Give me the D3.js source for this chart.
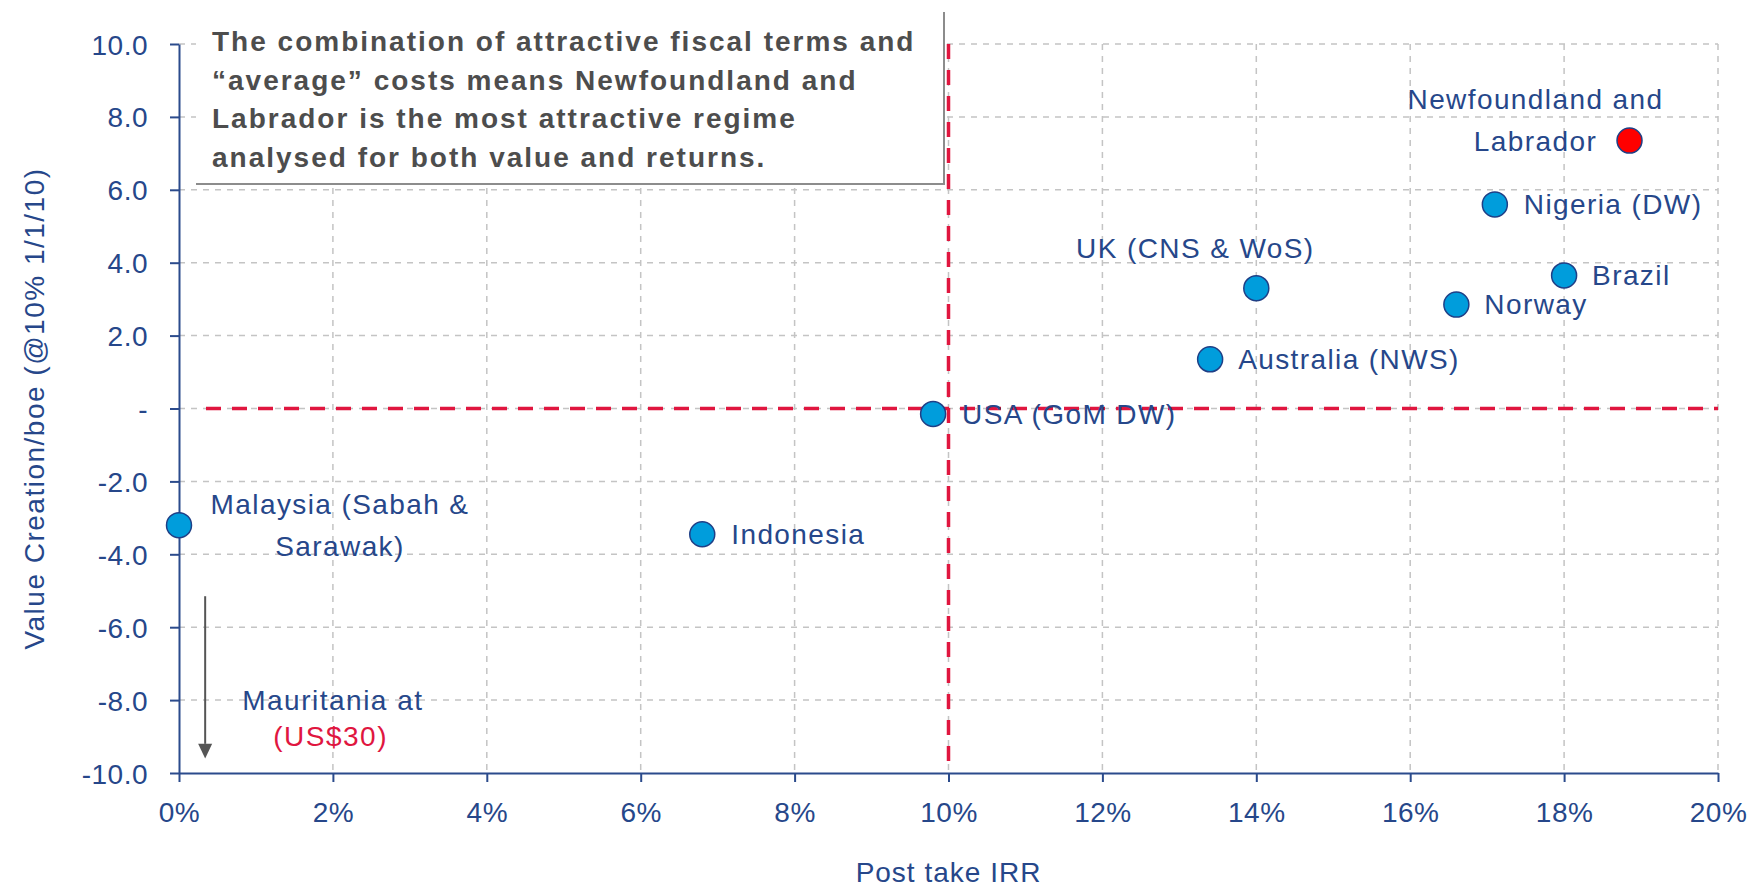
<!DOCTYPE html>
<html>
<head>
    <meta charset="utf-8">
    <title>Value creation vs post take IRR</title>
    <script src="https://cdnjs.cloudflare.com/ajax/libs/d3/7.8.5/d3.min.js"></script>
    <style>
        body {
            margin: 0;
            background: white;
            font-family: "Liberation Sans", Arial, sans-serif;
        }
        #chart {
            width: 1753px;
            height: 889px;
        }
        .grid line {
            stroke: #c4c4c4;
            stroke-width: 1.5;
            stroke-dasharray: 6,6;
        }
        .axis path, .axis line {
            stroke: #2b4b8c;
            stroke-width: 2;
        }
        .axis text {
            fill: #26478a;
            font-size: 28px;
            letter-spacing: 0.5px;
            font-family: "Liberation Sans", Arial, sans-serif;
        }
    </style>
</head>
<body>
    <div id="chart"></div>

    <script>
        // regimes: post take IRR (%) and value creation/boe
        const regimes = ["Malaysia (Sabah & Sarawak)", "Indonesia", "USA (GoM DW)", "Australia (NWS)",
            "UK (CNS & WoS)", "Norway", "Brazil", "Nigeria (DW)", "Newfoundland and Labrador"];
        const irr = [0.0, 6.8, 9.8, 13.4, 14.0, 16.6, 18.0, 17.1, 18.85];
        const valueCreation = [-3.2, -3.45, -0.15, 1.35, 3.3, 2.85, 3.65, 5.6, 7.35];
        const highlighted = "Newfoundland and Labrador";

        const xTicks = [0, 2, 4, 6, 8, 10, 12, 14, 16, 18, 20];
        const yTicks = [-10, -8, -6, -4, -2, 0, 2, 4, 6, 8, 10];

        const hurdleIRR = 10;      // vertical red line
        const breakEven = 0;       // horizontal red line

        const noteLines = [
            "The combination of attractive fiscal terms and",
            "\u201caverage\u201d costs means Newfoundland and",
            "Labrador is the most attractive regime",
            "analysed for both value and returns."
        ];

        // label placement (pixel offsets from each point)
        const labelLayout = {
            "Malaysia (Sabah & Sarawak)": { anchor: "middle", dx: 161, lines: [["Malaysia (Sabah &", -21], ["Sarawak)", 21]] },
            "Indonesia": { anchor: "start", dx: 29, lines: [["Indonesia", 0]] },
            "USA (GoM DW)": { anchor: "start", dx: 29, lines: [["USA (GoM DW)", 0]] },
            "Australia (NWS)": { anchor: "start", dx: 28, lines: [["Australia (NWS)", 0]] },
            "UK (CNS & WoS)": { anchor: "middle", dx: -61, lines: [["UK (CNS & WoS)", -40]] },
            "Norway": { anchor: "start", dx: 28, lines: [["Norway", 0]] },
            "Brazil": { anchor: "start", dx: 28, lines: [["Brazil", 0]] },
            "Nigeria (DW)": { anchor: "start", dx: 29, lines: [["Nigeria (DW)", 0]] },
            "Newfoundland and Labrador": { anchor: "middle", dx: -94, lines: [["Newfoundland and", -41], ["Labrador", 1]] }
        };

        const width = 1753, height = 889;
        const margin = { top: 44, right: 35, bottom: 116, left: 179 };

        const svg = d3.select("#chart").append("svg")
            .attr("width", width)
            .attr("height", height);

        const x = d3.scaleLinear().domain([0, 20]).range([margin.left, width - margin.right]);
        const y = d3.scaleLinear().domain([-10, 10]).range([height - margin.bottom, margin.top]);

        // grid
        const grid = svg.append("g").attr("class", "grid");
        grid.selectAll(".gx").data(xTicks.slice(1)).join("line")
            .attr("x1", d => x(d)).attr("x2", d => x(d))
            .attr("y1", y(10)).attr("y2", y(-10));
        grid.selectAll(".gy").data(yTicks.slice(1)).join("line")
            .attr("x1", x(0)).attr("x2", x(20))
            .attr("y1", d => y(d)).attr("y2", d => y(d));

        // text box (covers grid)
        const box = { x0: 196, y0: 12, x1: 944, y1: 184 };
        svg.append("rect")
            .attr("x", box.x0).attr("y", box.y0)
            .attr("width", box.x1 - box.x0).attr("height", box.y1 - box.y0)
            .attr("fill", "white");
        svg.append("path")
            .attr("d", `M${box.x0},${box.y1}H${box.x1}V${box.y0}`)
            .attr("fill", "none")
            .attr("stroke", "#8c8c8c")
            .attr("stroke-width", 2);
        svg.append("g").selectAll("text").data(noteLines).join("text")
            .attr("x", 212)
            .attr("y", (d, i) => 51 + i * 38.5)
            .attr("fill", "#4d4d4d")
            .attr("font-size", "28px")
            .attr("font-weight", "bold")
            .attr("letter-spacing", "2px")
            .text(d => d);

        // red reference lines
        svg.append("line")
            .attr("x1", x(hurdleIRR)).attr("x2", x(hurdleIRR))
            .attr("y1", y(10)).attr("y2", y(-10) - 8)
            .attr("stroke", "#e0163f").attr("stroke-width", 3.5)
            .attr("stroke-dasharray", "15,11");
        svg.append("line")
            .attr("x1", x(0) + 27).attr("x2", x(20))
            .attr("y1", y(breakEven)).attr("y2", y(breakEven))
            .attr("stroke", "#e0163f").attr("stroke-width", 3.5)
            .attr("stroke-dasharray", "15,11");

        // axes
        svg.append("g")
            .attr("class", "axis")
            .attr("transform", `translate(0,${y(-10)})`)
            .call(d3.axisBottom(x).tickValues(xTicks).tickSize(9).tickSizeOuter(0)
                .tickPadding(20).tickFormat(d => d + "%"));
        svg.append("g")
            .attr("class", "axis")
            .attr("transform", `translate(${x(0)},0)`)
            .call(d3.axisLeft(y).tickValues(yTicks).tickSize(9).tickSizeOuter(0)
                .tickPadding(22)
                .tickFormat(d => d === 0 ? "-" : (d < 0 ? "-" : "") + Math.abs(d).toFixed(1)));
        svg.selectAll(".axis .tick text").attr("dy", "0.36em");
        svg.selectAll(".axis .tick text").filter(function () {
            return d3.select(this.parentNode.parentNode).attr("transform").startsWith("translate(0");
        }).attr("dy", "0.71em");

        // axis titles
        svg.append("text")
            .attr("transform", `translate(44,${(y(10) + y(-10)) / 2}) rotate(-90)`)
            .attr("text-anchor", "middle")
            .attr("fill", "#26478a")
            .attr("font-size", "28px")
            .attr("letter-spacing", "1.5px")
            .text("Value Creation/boe (@10% 1/1/10)");
        svg.append("text")
            .attr("x", (x(0) + x(20)) / 2)
            .attr("y", 882)
            .attr("text-anchor", "middle")
            .attr("fill", "#26478a")
            .attr("font-size", "28px")
            .attr("letter-spacing", "1px")
            .text("Post take IRR");

        // Mauritania annotation
        svg.append("line")
            .attr("x1", x(0.34)).attr("x2", x(0.34))
            .attr("y1", y(-5.15)).attr("y2", y(-9.2))
            .attr("stroke", "#555").attr("stroke-width", 2);
        svg.append("path")
            .attr("d", `M${x(0.34) - 7},${y(-9.2)} L${x(0.34) + 7},${y(-9.2)} L${x(0.34)},${y(-9.6)} Z`)
            .attr("fill", "#555");
        svg.append("text")
            .attr("x", x(2.0)).attr("y", y(-8))
            .attr("dy", "0.35em")
            .attr("text-anchor", "middle")
            .attr("fill", "#26478a")
            .attr("font-size", "28px")
            .attr("letter-spacing", "1.5px")
            .text("Mauritania at");
        svg.append("text")
            .attr("x", x(1.97)).attr("y", y(-9.0))
            .attr("dy", "0.35em")
            .attr("text-anchor", "middle")
            .attr("fill", "#e0163f")
            .attr("font-size", "28px")
            .attr("letter-spacing", "1.5px")
            .text("(US$30)");

        // points
        const points = regimes.map((name, i) => ({ name, irr: irr[i], value: valueCreation[i] }));

        svg.append("g").selectAll("circle").data(points).join("circle")
            .attr("cx", d => x(d.irr))
            .attr("cy", d => y(d.value))
            .attr("r", 12.5)
            .attr("fill", d => d.name === highlighted ? "#ff0000" : "#009ddc")
            .attr("stroke", "#1f3f86")
            .attr("stroke-width", 1.5);

        // labels
        const labels = svg.append("g");
        points.forEach(d => {
            const lay = labelLayout[d.name];
            lay.lines.forEach(([txt, dy]) => {
                labels.append("text")
                    .attr("x", x(d.irr) + lay.dx)
                    .attr("y", y(d.value) + dy)
                    .attr("dy", "0.35em")
                    .attr("text-anchor", lay.anchor)
                    .attr("fill", "#26478a")
                    .attr("font-size", "28px")
                    .attr("letter-spacing", "1.4px")
                    .text(txt);
            });
        });
    </script>
</body>
</html>
